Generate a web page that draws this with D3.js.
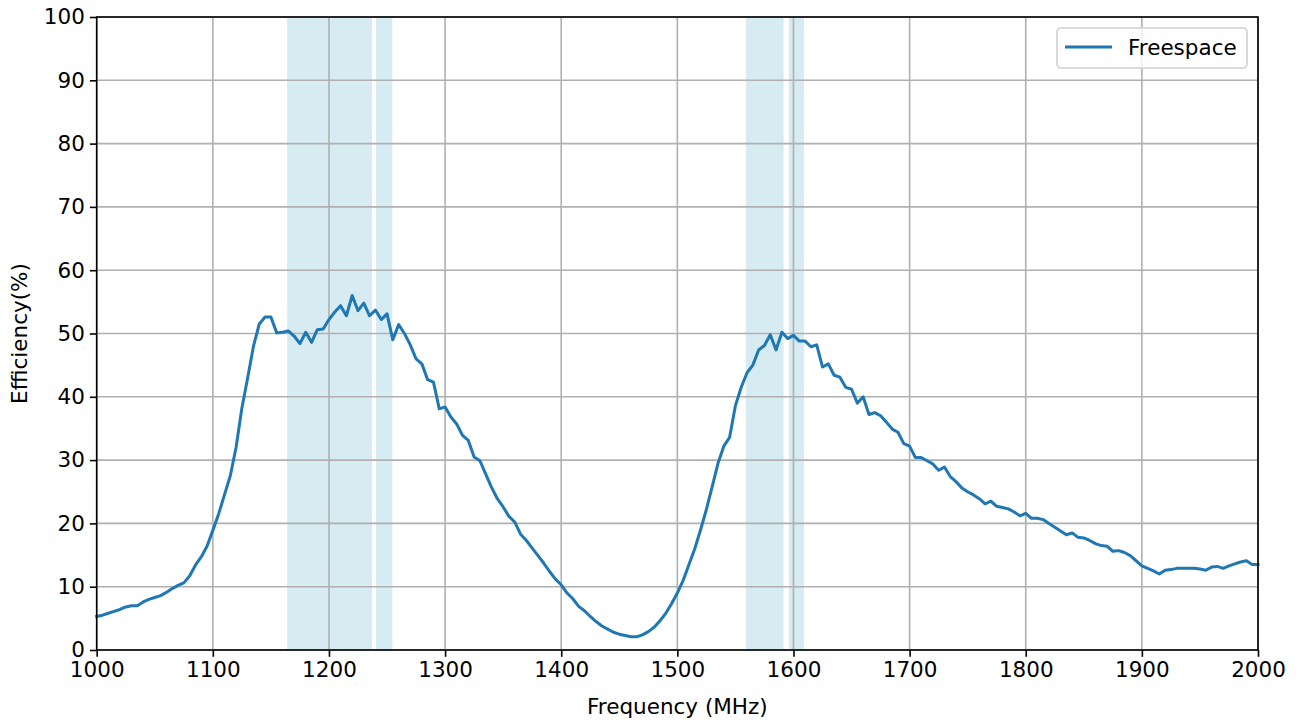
<!DOCTYPE html>
<html><head><meta charset="utf-8">
<script src="https://cdn.jsdelivr.net/npm/d3@7"></script>
<style>body{margin:0;background:#fff;} svg{display:block;font-family:"DejaVu Sans",sans-serif;}</style>
</head><body>
<svg id="c" width="1299" height="722"></svg>
<script>
const freqStart = 1000, freqStep = 5;
const efficiency = [
5.3,5.5,5.8,6.1,6.4,6.8,7.0,7.0,7.6,8.0,
8.3,8.6,9.1,9.7,10.2,10.6,11.7,13.4,14.7,16.4,
18.9,21.5,24.5,27.5,32.0,38.2,43.0,48.0,51.5,52.6,
52.6,50.1,50.2,50.4,49.6,48.4,50.2,48.6,50.6,50.7,
52.2,53.4,54.4,52.8,56.0,53.6,54.8,52.8,53.7,52.2,
53.1,49.0,51.4,50.0,48.2,46.0,45.2,42.7,42.3,38.1,
38.4,36.8,35.7,33.9,33.1,30.5,29.9,27.8,25.7,23.9,
22.6,21.1,20.2,18.3,17.3,16.1,14.9,13.7,12.4,11.2,
10.3,9.0,8.1,6.9,6.2,5.3,4.5,3.8,3.3,2.8,
2.5,2.3,2.1,2.1,2.4,2.9,3.6,4.6,5.8,7.3,
9.0,11.0,13.5,16.0,19.0,22.2,25.8,29.5,32.2,33.6,
38.6,41.5,43.8,45.0,47.4,48.1,49.8,47.4,50.2,49.2,
49.7,48.8,48.8,47.9,48.2,44.7,45.2,43.4,43.1,41.5,
41.2,39.0,40.0,37.2,37.5,37.0,36.0,34.9,34.4,32.6,
32.2,30.4,30.4,29.9,29.4,28.4,28.9,27.4,26.6,25.6,
25.0,24.5,23.9,23.1,23.5,22.7,22.5,22.3,21.8,21.2,
21.6,20.8,20.8,20.6,20.0,19.4,18.8,18.2,18.5,17.8,
17.7,17.3,16.8,16.5,16.4,15.6,15.7,15.4,14.9,14.1,
13.3,12.9,12.5,12.0,12.6,12.7,12.9,12.9,12.9,12.9,
12.8,12.6,13.1,13.2,12.9,13.3,13.6,13.9,14.1,13.5,
13.5];
const bands = [[1164,1237],[1240.5,1254.6],[1559,1591.5],[1596,1609]];
const xTicks = [1000,1100,1200,1300,1400,1500,1600,1700,1800,1900,2000];
const yTicks = [0,10,20,30,40,50,60,70,80,90,100];
const seriesName = "Freespace";

const data = efficiency.map((v,i)=>({f:freqStart+i*freqStep, v}));
const L=96.7, R=1258, T=17, B=650;
const svg = d3.select("#c");
const x = d3.scaleLinear().domain([1000,2000]).range([L,R]);
const y = d3.scaleLinear().domain([0,100]).range([B,T]);

svg.append("g").selectAll("rect").data(bands).join("rect")
  .attr("x",d=>x(d[0])).attr("width",d=>x(d[1])-x(d[0]))
  .attr("y",T).attr("height",B-T).attr("fill","rgb(214,235,242)");

const grid = svg.append("g").attr("stroke","#b0b0b0").attr("stroke-width",1.6);
grid.selectAll("line.vx").data(xTicks).join("line")
  .attr("x1",d=>x(d)).attr("x2",d=>x(d)).attr("y1",T).attr("y2",B);
grid.selectAll("line.hy").data(yTicks).join("line")
  .attr("y1",d=>y(d)).attr("y2",d=>y(d)).attr("x1",L).attr("x2",R);

svg.append("path").datum(data)
  .attr("fill","none").attr("stroke","#1f77b4").attr("stroke-width",3)
  .attr("stroke-linejoin","round").attr("stroke-linecap","square")
  .attr("d",d3.line().x(d=>x(d.f)).y(d=>y(d.v)));

const fs = 21.5;
const xAxis = svg.append("g").attr("transform",`translate(0,${B})`)
  .call(d3.axisBottom(x).tickValues(xTicks).tickFormat(d3.format("d")).tickSize(6.8).tickPadding(5));
const yAxis = svg.append("g").attr("transform",`translate(${L},0)`)
  .call(d3.axisLeft(y).tickValues(yTicks).tickFormat(d3.format("d")).tickSize(6.8).tickPadding(5));
[xAxis,yAxis].forEach(a=>{
  a.select(".domain").remove();
  a.selectAll("line").attr("stroke","#000").attr("stroke-width",1.6);
  a.selectAll("text").attr("font-size",fs).attr("fill","#000").attr("font-family","DejaVu Sans");
});
svg.append("rect").attr("x",L).attr("y",T).attr("width",R-L).attr("height",B-T)
  .attr("fill","none").attr("stroke","#000").attr("stroke-width",1.6);

svg.append("text").attr("x",(L+R)/2).attr("y",714).attr("text-anchor","middle")
  .attr("font-size",fs).text("Frequency (MHz)");
svg.append("text").attr("transform",`translate(27,${(T+B)/2}) rotate(-90)`)
  .attr("text-anchor","middle").attr("font-size",fs).text("Efficiency(%)");

const lg = svg.append("g");
lg.append("rect").attr("x",1057).attr("y",28).attr("width",190).attr("height",40).attr("rx",4)
  .attr("fill","rgba(255,255,255,0.8)").attr("stroke","#d0d0d0").attr("stroke-width",1.6);
lg.append("line").attr("x1",1065).attr("x2",1112).attr("y1",47).attr("y2",47)
  .attr("stroke","#1f77b4").attr("stroke-width",3);
lg.append("text").attr("x",1128).attr("y",55).attr("font-size",fs).text(seriesName);
</script>
</body></html>
